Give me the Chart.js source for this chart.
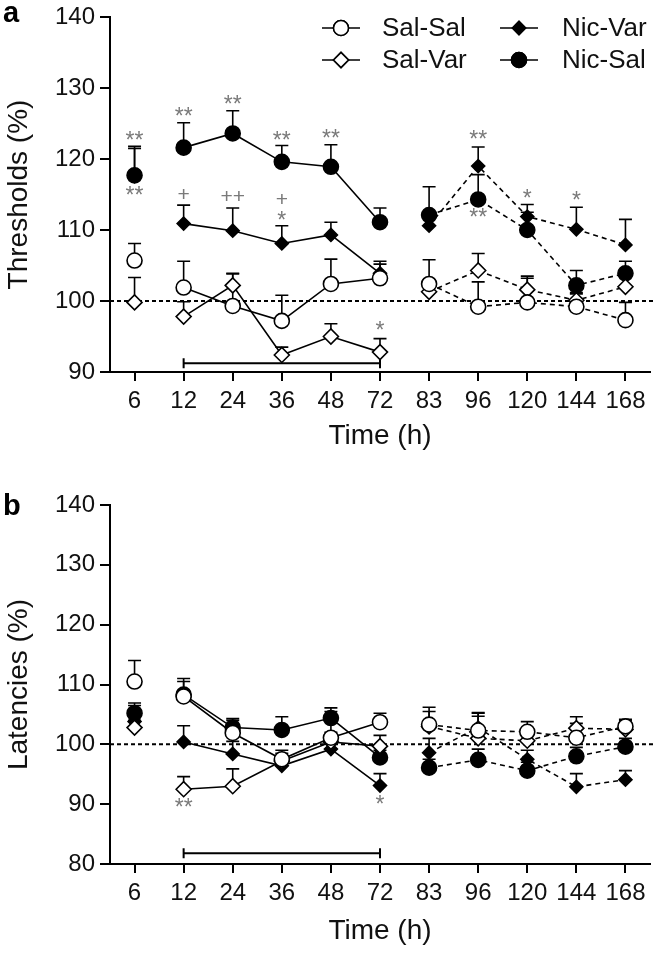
<!DOCTYPE html>
<html>
<head>
<meta charset="utf-8">
<script src="https://cdn.jsdelivr.net/npm/chart.js@4.4.1/dist/chart.umd.min.js"></script>
<style>
  html, body { margin: 0; padding: 0; background: #fff; }
  #wrap { position: relative; width: 660px; height: 955px; }
  .panel { position: absolute; left: 0; width: 660px; }
  #pa { top: 0; height: 455px; }
  #pb { top: 470px; height: 480px; }
</style>
</head>
<body>
<div id="wrap">
  <div class="panel" id="pa"><canvas id="chart_a"></canvas></div>
  <div class="panel" id="pb"><canvas id="chart_b"></canvas></div>
</div>
<script>
const timeLabels = ['6', '12', '24', '36', '48', '72', '83', '96', '120', '144', '168'];
const groupNames = ['Sal-Sal', 'Sal-Var', 'Nic-Var', 'Nic-Sal'];

// panel a: thresholds (%), mean and top of the error bar
const thrSalSal    = [105.7, 101.9,  99.3,  97.2, 102.4, 103.2, 102.4,  99.2,  99.8,  99.2,  97.3];
const thrSalSalErr = [108.1, 105.6, 103.8, 100.8, 105.9, 105.2, 105.8, 102.7, 103.2, 101.0,  99.8];
const thrSalVar    = [ 99.8,  97.8, 102.2,  92.4,  95.0,  92.8, 101.3, 104.3, 101.6, 100.1, 102.0];
const thrSalVarErr = [103.3,  99.9, 103.9,  93.5,  96.8,  94.7, 103.0, 106.7, 103.5, 101.2, 103.5];
const thrNicVar    = [117.6, 110.9, 109.9, 108.1, 109.3, 103.9, 110.6, 119.0, 111.9, 110.1, 107.9];
const thrNicVarErr = [121.5, 113.5, 113.1, 110.6, 111.1, 105.6, 112.5, 121.7, 113.6, 113.2, 111.5];
const thrNicSal    = [117.7, 121.6, 123.6, 119.6, 118.9, 111.1, 112.1, 114.3, 110.0, 102.2, 103.9];
const thrNicSalErr = [121.8, 125.1, 126.8, 121.9, 122.0, 113.1, 116.1, 117.8, 112.5, 104.3, 105.6];

// panel b: latencies (%)
const latSalSal    = [110.5, 108.0, 101.9,  97.5, 101.1, 103.7, 103.3, 102.3, 102.1, 101.1, 103.0];
const latSalSalErr = [114.0, 110.5, 104.0,  99.0, 105.5, 105.2, 106.2, 105.3, 103.8, 103.5, 104.2];
const latSalVar    = [102.8,  92.5,  93.0,  97.2, 100.4,  99.7, 103.0, 101.0, 100.6, 102.7, 102.5];
const latSalVarErr = [104.0,  94.6,  95.9,  98.5, 102.0, 101.5, 105.5, 104.7, 102.5, 104.6, 104.0];
const latNicVar    = [103.8, 100.4,  98.4,  96.4,  99.2,  93.1,  98.6, 102.8,  97.5,  92.9,  94.1];
const latNicVarErr = [106.5, 103.1, 100.5,  98.0, 100.5,  95.1, 101.0, 105.2,  99.0,  95.1,  95.6];
const latNicSal    = [105.2, 108.3, 102.8, 102.4, 104.4,  97.8,  96.1,  97.4,  95.6,  98.0,  99.6];
const latNicSalErr = [106.9, 111.0, 104.3, 104.6, 106.1,  99.0,  97.5,  99.2,  97.0,  99.5, 101.0];

// significance marks: [time index, value, text]
const thrMarks = [
  [0, 123.0, '**'], [0, 115.2, '**'], [1, 126.4, '**'], [2, 128.1, '**'], [3, 123.0, '**'],
  [4, 123.3, '**'], [7, 123.2, '**'], [7, 112.1, '**'], [5, 96.3, '*'], [8, 114.9, '*'],
  [9, 114.6, '*'], [3, 111.8, '*'],
  [1, 114.9, '+'], [2, 114.6, '++'], [3, 114.2, '+']
];
const latMarks = [[1, 90.0, '**'], [5, 90.5, '*']];

// treatment period bar: [from index, to index, value]
const thrPeriod = [1, 5, 91.25];
const latPeriod = [1, 5, 81.8];

const FONT = '"Liberation Sans", Arial, sans-serif';
Chart.defaults.font.family = FONT;
Chart.defaults.color = '#111';

const markers = [
  { shape: 'circle', r: 7.5, fill: '#fff' },
  { shape: 'rectRot', r: 7.5, fill: '#fff' },
  { shape: 'rectRot', r: 6.5, fill: '#000' },
  { shape: 'circle', r: 7.5, fill: '#000' }
];

const makeDatasets = (series) => series.map((vals, k) => ({
  label: groupNames[k],
  data: vals,
  borderColor: '#000',
  borderWidth: 1.6,
  pointStyle: markers[k].shape,
  pointRadius: markers[k].r,
  pointHoverRadius: markers[k].r,
  pointBackgroundColor: markers[k].fill,
  pointBorderColor: '#000',
  pointBorderWidth: 1.6,
  tension: 0,
  segment: {
    // no line 6->12 and 72->83, dashed after 83
    borderColor: (ctx) => (ctx.p0DataIndex === 0 || ctx.p0DataIndex === 5) ? 'rgba(0,0,0,0)' : '#000',
    borderDash: (ctx) => ctx.p0DataIndex >= 6 ? [5, 4] : []
  }
}));

const makeExtras = (errTops, marks, period, letter, letterDy) => ({
  id: 'extras',
  beforeDatasetsDraw(chart) {
    const { ctx, chartArea, scales: { x, y } } = chart;
    ctx.save();
    // reference line at 100 %
    const y100 = y.getPixelForValue(100);
    ctx.strokeStyle = '#000';
    ctx.lineWidth = 2;
    ctx.setLineDash([4, 3]);
    ctx.beginPath();
    ctx.moveTo(chartArea.left, y100);
    ctx.lineTo(chartArea.right + 4, y100);
    ctx.stroke();
    ctx.setLineDash([]);
    // treatment period
    const px0 = x.getPixelForValue(period[0]), px1 = x.getPixelForValue(period[1]);
    const py = y.getPixelForValue(period[2]);
    ctx.beginPath();
    ctx.moveTo(px0, py); ctx.lineTo(px1, py);
    ctx.moveTo(px0, py - 5); ctx.lineTo(px0, py + 5);
    ctx.moveTo(px1, py - 5); ctx.lineTo(px1, py + 5);
    ctx.stroke();
    // error bars (upper only)
    ctx.lineWidth = 1.6;
    errTops.forEach((tops, k) => {
      const vals = chart.data.datasets[k].data;
      tops.forEach((t, i) => {
        const px = x.getPixelForValue(i);
        const y0 = y.getPixelForValue(vals[i]);
        const y1 = y.getPixelForValue(t);
        ctx.beginPath();
        ctx.moveTo(px, y0); ctx.lineTo(px, y1);
        ctx.moveTo(px - 6.5, y1); ctx.lineTo(px + 6.5, y1);
        ctx.stroke();
      });
    });
    ctx.restore();
  },
  afterDatasetsDraw(chart) {
    const { ctx, scales: { x, y } } = chart;
    ctx.save();
    ctx.fillStyle = '#7a7a7a';
    ctx.textAlign = 'center';
    ctx.textBaseline = 'middle';
    marks.forEach(([i, v, txt]) => {
      const star = txt.indexOf('*') >= 0;
      ctx.font = star ? '23px ' + FONT : '21px ' + FONT;
      ctx.fillText(txt, x.getPixelForValue(i), y.getPixelForValue(v) + (star ? 4 : 0));
    });
    // panel letter
    ctx.fillStyle = '#000';
    ctx.textAlign = 'left';
    ctx.textBaseline = 'alphabetic';
    ctx.font = 'bold 29px ' + FONT;
    ctx.fillText(letter, 3, chart.chartArea.top + letterDy);
    ctx.restore();
  }
});

// legend drawn inside panel a, two columns
const legendPlugin = {
  id: 'legend2col',
  afterDraw(chart) {
    const { ctx } = chart;
    const cols = [[322, 382], [500, 562]];
    const rows = [28, 60];
    const order = [[0, 0, 0], [1, 0, 1], [2, 1, 0], [3, 1, 1]];
    ctx.save();
    order.forEach(([k, c, r]) => {
      const [x0, tx] = cols[c];
      const yy = rows[r];
      ctx.strokeStyle = '#000';
      ctx.lineWidth = 1.6;
      ctx.beginPath();
      ctx.moveTo(x0, yy); ctx.lineTo(x0 + 38, yy);
      ctx.stroke();
      ctx.fillStyle = markers[k].fill;
      Chart.helpers.drawPoint(ctx, { pointStyle: markers[k].shape, radius: markers[k].r, borderWidth: 1.6 }, x0 + 19, yy);
      ctx.fill();
      ctx.stroke();
      ctx.fillStyle = '#111';
      ctx.font = '26px ' + FONT;
      ctx.textAlign = 'left';
      ctx.textBaseline = 'middle';
      ctx.fillText(groupNames[k], tx, yy + 1);
    });
    ctx.restore();
  }
};

const axisFont = { family: FONT, size: 24, lineHeight: 1 };
const titleFont = { family: FONT, size: 28 };

const makeOptions = (yMin, yTitle, topPad, xHeight) => ({
  responsive: true,
  maintainAspectRatio: false,
  animation: false,
  layout: { padding: { top: topPad, right: 10, left: 0, bottom: 0 } },
  plugins: { legend: { display: false }, tooltip: { enabled: false } },
  scales: {
    x: {
      type: 'category',
      offset: true,
      border: { color: '#000', width: 2 },
      grid: { drawOnChartArea: false, drawTicks: true, tickLength: 9, color: '#000', lineWidth: 2, offset: false },
      ticks: { color: '#111', font: axisFont, padding: 8, maxRotation: 0, autoSkip: false },
      title: { display: true, text: 'Time (h)', color: '#111', font: titleFont, padding: { top: 4, bottom: 2 } },
      afterFit: (s) => { s.height = xHeight; }
    },
    y: {
      min: yMin,
      max: 140,
      border: { color: '#000', width: 2 },
      grid: { drawOnChartArea: false, drawTicks: true, tickLength: 10, color: '#000', lineWidth: 2 },
      ticks: { stepSize: 10, color: '#111', font: axisFont, padding: 5 },
      title: { display: true, text: yTitle, color: '#111', font: titleFont, padding: { top: 2, bottom: 4 } },
      afterFit: (s) => { s.width = 110; }
    }
  }
});

new Chart(document.getElementById('chart_a'), {
  type: 'line',
  data: { labels: timeLabels, datasets: makeDatasets([thrSalSal, thrSalVar, thrNicVar, thrNicSal]) },
  options: makeOptions(90, 'Thresholds (%)', 13, 83),
  plugins: [makeExtras([thrSalSalErr, thrSalVarErr, thrNicVarErr, thrNicSalErr], thrMarks, thrPeriod, 'a', 5), legendPlugin]
});

new Chart(document.getElementById('chart_b'), {
  type: 'line',
  data: { labels: timeLabels, datasets: makeDatasets([latSalSal, latSalVar, latNicVar, latNicSal]) },
  options: makeOptions(80, 'Latencies (%)', 35, 86),
  plugins: [makeExtras([latSalSalErr, latSalVarErr, latNicVarErr, latNicSalErr], latMarks, latPeriod, 'b', 10)]
});
</script>
</body>
</html>
